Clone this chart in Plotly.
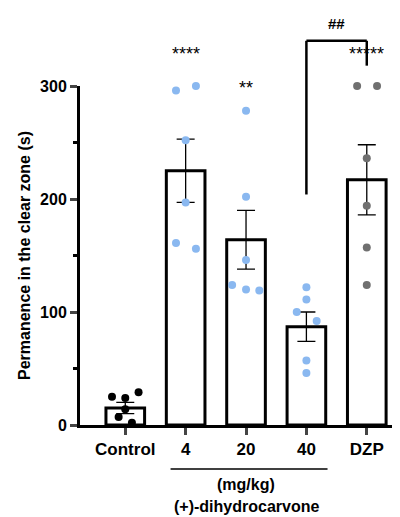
import plotly.graph_objects as go

groups = ["Control", "4", "20", "40", "DZP"]
means = [15, 225, 164, 87, 217]
sem = [5, 28, 26, 13, 31]
pts = [
    [25, 29, 24, 14, 7, 2],
    [296, 300, 252, 197, 161, 156],
    [278, 202, 146, 124, 120, 119],
    [122, 111, 100, 92, 57, 46],
    [300, 300, 236, 194, 157, 124],
]
jitter = [
    [-0.22, 0.22, 0, 0, -0.11, 0.11],
    [-0.16, 0.17, 0, 0, -0.16, 0.17],
    [0, 0, 0, -0.23, 0, 0.22],
    [0, 0, -0.16, 0.17, 0, 0],
    [-0.16, 0.17, 0, 0, 0, 0],
]
stars = ["", "****", "**", "", "*****"]
star_y = [0, 318, 288, 0, 318]
dot_colors = ["black", "#8ab8f0", "#8ab8f0", "#8ab8f0", "#707070"]

YMAX = 300
xs = list(range(len(groups)))
fig = go.Figure()
fig.add_trace(go.Bar(
    x=xs, y=means, width=0.64,
    marker=dict(color="white", line=dict(color="black", width=3)),
    error_y=dict(type="data", array=sem, color="black", thickness=1.3, width=9),
))
for i in xs:
    fig.add_trace(go.Scatter(
        x=[i + j for j in jitter[i]], y=pts[i], mode="markers",
        marker=dict(color=dot_colors[i], size=8), cliponaxis=False,
    ))
    if stars[i]:
        fig.add_annotation(x=i, y=star_y[i] / YMAX, yref="paper",
                           text=stars[i], showarrow=False,
                           font=dict(size=18, color="black"), yanchor="bottom")

# bracket 40 vs DZP (paper y so it is not clipped)
p = lambda v: v / YMAX
fig.add_shape(type="line", xref="x", yref="paper", x0=3, x1=3, y0=p(204), y1=p(340),
              line=dict(color="black", width=2.5))
fig.add_shape(type="line", xref="x", yref="paper", x0=3, x1=4, y0=p(340), y1=p(340),
              line=dict(color="black", width=2.5))
fig.add_shape(type="line", xref="x", yref="paper", x0=4, x1=4, y0=p(340), y1=p(318),
              line=dict(color="black", width=2.5))
fig.add_annotation(x=3.5, y=p(346), yref="paper", text="<b>##</b>", showarrow=False,
                   font=dict(size=15, color="black"), yanchor="bottom")

# dose line and labels
fig.add_shape(type="line", xref="x", yref="paper", x0=0.75, x1=3.35, y0=-0.13, y1=-0.13,
              line=dict(color="black", width=1.5))
fig.add_annotation(x=2, y=-0.145, xref="x", yref="paper", text="<b>(mg/kg)</b>",
                   showarrow=False, yanchor="top", font=dict(size=16, color="black"))
fig.add_annotation(x=2, y=-0.21, xref="x", yref="paper", text="<b>(+)-dihydrocarvone</b>",
                   showarrow=False, yanchor="top", font=dict(size=16, color="black"))

fig.update_layout(
    width=400, height=517, showlegend=False,
    plot_bgcolor="white", paper_bgcolor="white",
    margin=dict(l=72, r=5, t=78, b=100),
    font=dict(family="Liberation Sans, Arial", color="black"),
    xaxis=dict(range=[-0.75, 4.6], tickvals=xs,
               ticktext=["<b>%s</b>" % g for g in groups],
               tickfont=dict(size=17), ticks="outside", ticklen=7, tickwidth=2.5,
               showline=True, linecolor="black", linewidth=3, showgrid=False,
               zeroline=False),
    yaxis=dict(range=[0, YMAX], tickvals=[0, 100, 200, 300],
               ticktext=["<b>0</b>", "<b>100</b>", "<b>200</b>", "<b>300</b>"],
               tickfont=dict(size=16), ticks="outside", ticklen=7, tickwidth=2.5,
               showline=True, linecolor="black", linewidth=3, showgrid=False,
               zeroline=False,
               minor=dict(tickvals=[50, 150, 250], ticks="outside", ticklen=4,
                          tickwidth=2.5, tickcolor="black"),
               title=dict(text="<b>Permanence in the clear zone (s)</b>",
                          font=dict(size=16), standoff=6)),
)
fig.write_html("out.html")
